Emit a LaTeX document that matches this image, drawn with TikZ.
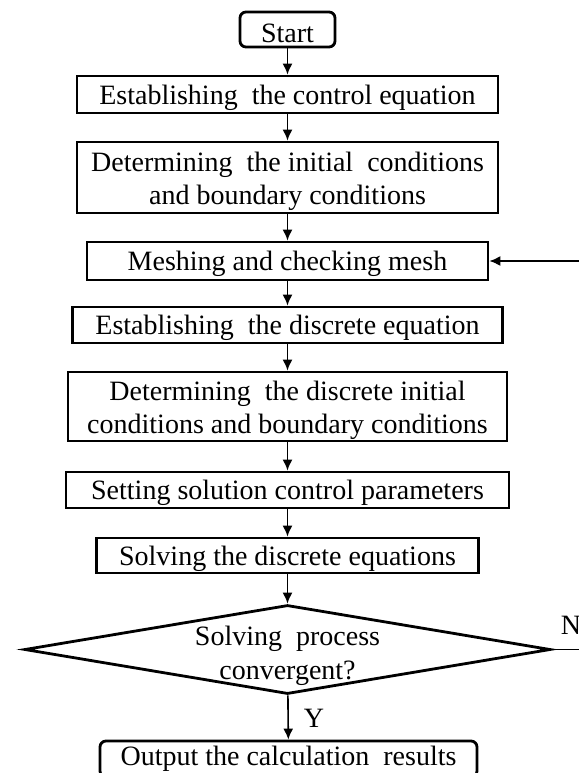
\documentclass[tikz,border=0pt]{standalone}
\usepackage{fontspec}
\setmainfont{Liberation Serif}
\usetikzlibrary{arrows.meta,shapes.geometric}
\newcommand{\twolines}[2]{\raisebox{-1.8pt}[\height][\depth]{\begin{tabular}{@{}c@{}}#1\\#2\end{tabular}}}
\begin{document}
\begin{tikzpicture}[x=0.5pt,y=-0.5pt,
  txt/.style={font=\fontsize{14}{16.8}\selectfont, align=center, inner sep=0pt},
  lowtxt/.style={txt, execute at begin node={\rule{0pt}{13pt}}},
  box/.style={lowtxt, draw, line width=1.4pt, rectangle},
  twobox/.style={txt, draw, line width=1.4pt, rectangle},
  rbox/.style={box, rounded corners=3pt},
  arr/.style={-{Latex[length=5.5pt,width=5pt]}, line width=0.8pt},
  conn/.style={line width=0.8pt}]
\useasboundingbox (0,0) rectangle (579,773);
\clip (0,0) rectangle (579,773);
\node[rbox, minimum width=47.5pt, minimum height=17.5pt] (start) at (287.5,29.5) {Start};
\node[box, minimum width=210.5pt, minimum height=18.5pt] (b1) at (287.5,94.5) {Establishing\ \ the control equation};
\node[twobox, minimum width=210.5pt, minimum height=35.5pt] (b2) at (287.5,177.5) {\twolines{Determining\ \ the initial\ \ conditions}{and boundary conditions}};
\node[box, minimum width=200.5pt, minimum height=19pt] (b3) at (287.5,261) {Meshing and checking mesh};
\node[box, minimum width=215pt, minimum height=18pt] (b4) at (287.5,325) {Establishing\ \ the discrete equation};
\node[twobox, minimum width=219.5pt, minimum height=34.5pt] (b5) at (287.5,406.5) {\twolines{Determining\ \ the discrete initial}{conditions and boundary conditions}};
\node[box, minimum width=221.5pt, minimum height=18pt] (b6) at (287.5,490) {Setting solution control parameters};
\node[box, minimum width=191pt, minimum height=17.5pt] (b7) at (287.5,555.5) {Solving the discrete equations};
\node[diamond, draw, line width=1.4pt, inner sep=0pt, minimum width=263pt, minimum height=44.5pt] (dec) at (287.5,649.5) {};
\node[txt] (dectext) at (287.5,652) {\twolines{Solving\ \ process}{convergent?}};
\node[txt, draw, line width=1.4pt, rounded corners=3pt, minimum width=188.5pt, minimum height=18pt] (out) at (288.5,759) {Output the calculation\ \ results};
\node[txt] (ylab) at (314,718) {Y};
\node[txt] (nlab) at (571,625) {N};
\coordinate (loopA) at (600,649.5);
\coordinate (loopB) at (600,261);
\draw[arr] (start) -- (b1);
\draw[arr] (b1) -- (b2);
\draw[arr] (b2) -- (b3);
\draw[arr] (b3) -- (b4);
\draw[arr] (b4) -- (b5);
\draw[arr] (b5) -- (b6);
\draw[arr] (b6) -- (b7);
\draw[arr] (b7) -- (dec);
\draw[arr] (dec) -- (out);
\draw[conn] (dec.east) -- (loopA) -- (loopB);
\draw[arr] (loopB) -- (b3.east);
\end{tikzpicture}
\end{document}
